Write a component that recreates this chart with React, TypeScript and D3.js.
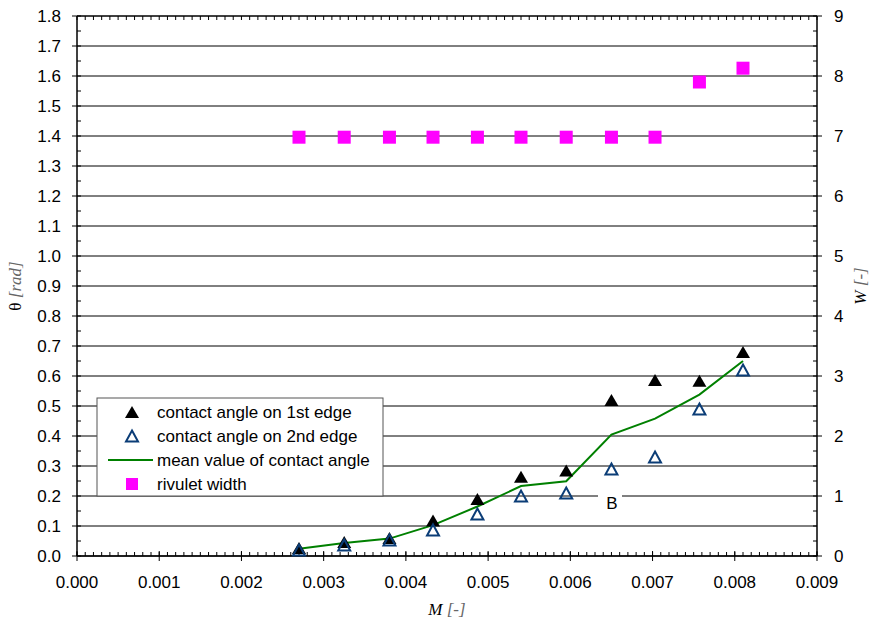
import React from 'react';
import * as d3 from 'd3';

const mValues = [0.0027, 0.00325, 0.0038, 0.00433, 0.00487, 0.0054, 0.00595, 0.0065, 0.00703, 0.00757, 0.0081];
const angle1st = [0.027, 0.047, 0.06, 0.118, 0.19, 0.264, 0.285, 0.52, 0.587, 0.584, 0.68];
const angle2nd = [0.02, 0.037, 0.053, 0.087, 0.14, 0.2, 0.21, 0.29, 0.33, 0.49, 0.62];
const meanAngle = [0.024, 0.043, 0.058, 0.103, 0.165, 0.233, 0.249, 0.405, 0.458, 0.538, 0.65];
const rivuletWidth = [6.98, 6.98, 6.98, 6.98, 6.98, 6.98, 6.98, 6.98, 6.98, 7.9, 8.13];

const xTicks = [0, 0.001, 0.002, 0.003, 0.004, 0.005, 0.006, 0.007, 0.008, 0.009];
const thetaTicks = d3.range(0, 19).map(i => i / 10);
const wTicks = [0, 1, 2, 3, 4, 5, 6, 7, 8, 9];
const legendLabels = [
    'contact angle on 1st edge',
    'contact angle on 2nd edge',
    'mean value of contact angle',
    'rivulet width'
];

const font = '"Liberation Sans", Arial, Helvetica, sans-serif';
const serif = '"Liberation Serif", "Times New Roman", serif';

const triangle = (x: number, y: number, w = 14, h = 12) =>
    `M${x},${y - h / 2}L${x + w / 2},${y + h / 2}L${x - w / 2},${y + h / 2}Z`;

const App = () => {
    const margin = { top: 16, right: 54, bottom: 64, left: 77 };
    const W = 871, H = 620;
    const width = W - margin.left - margin.right;
    const height = H - margin.top - margin.bottom;

    const x = d3.scaleLinear().domain([0, 0.009]).range([margin.left, margin.left + width]);
    const y = d3.scaleLinear().domain([0, 1.8]).range([margin.top + height, margin.top]);
    const yW = d3.scaleLinear().domain([0, 9]).range([margin.top + height, margin.top]);

    const x0 = margin.left, x1 = margin.left + width;
    const y0 = margin.top + height, y1 = margin.top;

    const line = d3.line<number>()
        .x((d, i) => x(mValues[i]))
        .y(d => y(d));

    const minorX = d3.range(0, 91).map(i => i / 10000);
    const minorY = d3.range(0, 37).map(i => i * 0.05);

    const lg = { x: 97, y: 398, w: 286, h: 98 };
    const rowY = (i: number) => lg.y + 14 + i * 24;

    return (
        <svg width={W} height={H} style={{ position: 'absolute', left: 0, top: 0, background: '#fff' }}>
            {/* grid */}
            {thetaTicks.map(t => (
                <line key={'g' + t} x1={x0} x2={x1} y1={y(t)} y2={y(t)} stroke="#000" strokeWidth={1} />
            ))}

            {/* minor ticks */}
            {minorX.map((t, i) => (
                <g key={'mx' + i}>
                    <line x1={x(t)} x2={x(t)} y1={y0} y2={y0 - 4} stroke="#000" />
                    <line x1={x(t)} x2={x(t)} y1={y1} y2={y1 + 4} stroke="#000" />
                </g>
            ))}
            {minorY.map((t, i) => (
                <g key={'my' + i}>
                    <line x1={x0} x2={x0 + 4} y1={y(t)} y2={y(t)} stroke="#000" />
                    <line x1={x1} x2={x1 - 4} y1={y(t)} y2={y(t)} stroke="#000" />
                </g>
            ))}

            {/* axes */}
            <line x1={x0} x2={x0} y1={y1} y2={y0} stroke="#000" strokeWidth={1.5} />
            <line x1={x1} x2={x1} y1={y1} y2={y0} stroke="#000" strokeWidth={1.5} />
            <line x1={x0} x2={x1} y1={y0} y2={y0} stroke="#000" strokeWidth={1.5} />
            <line x1={x0} x2={x1} y1={y1} y2={y1} stroke="#000" strokeWidth={1} />

            {/* major ticks + labels */}
            {xTicks.map(t => (
                <g key={'x' + t}>
                    <line x1={x(t)} x2={x(t)} y1={y0 - 5} y2={y0 + 5} stroke="#000" />
                    <text x={x(t)} y={y0 + 32} textAnchor="middle" fontFamily={font} fontSize={17}>{t.toFixed(3)}</text>
                </g>
            ))}
            {thetaTicks.map(t => (
                <g key={'y' + t}>
                    <line x1={x0 - 5} x2={x0} y1={y(t)} y2={y(t)} stroke="#000" />
                    <text x={61} y={y(t)} dy="0.35em" textAnchor="end" fontFamily={font} fontSize={17}>{t.toFixed(1)}</text>
                </g>
            ))}
            {wTicks.map(t => (
                <g key={'w' + t}>
                    <line x1={x1} x2={x1 + 5} y1={yW(t)} y2={yW(t)} stroke="#000" />
                    <text x={834} y={yW(t)} dy="0.35em" fontFamily={font} fontSize={17}>{t}</text>
                </g>
            ))}

            {/* axis titles */}
            <text x={447} y={615} textAnchor="middle" fontFamily={serif} fontSize={17} fontStyle="italic">
                M <tspan fill="#666" fontWeight={300}>[-]</tspan>
            </text>
            <text transform={`translate(21,${(y0 + y1) / 2}) rotate(-90)`} textAnchor="middle" fontFamily={serif} fontSize={17}>
                θ <tspan fill="#666" fontStyle="italic">[rad]</tspan>
            </text>
            <text transform={`translate(866,${(y0 + y1) / 2}) rotate(-90)`} textAnchor="middle" fontFamily={serif} fontSize={17} fontStyle="italic">
                W <tspan fill="#666">[-]</tspan>
            </text>

            {/* mean line */}
            <path d={line(meanAngle) || ''} fill="none" stroke="#008000" strokeWidth={2} />

            {/* 1st edge */}
            {angle1st.map((v, i) => (
                <path key={'a' + i} d={triangle(x(mValues[i]), y(v))} fill="#000" />
            ))}
            {/* 2nd edge */}
            {angle2nd.map((v, i) => (
                <path key={'b' + i} d={triangle(x(mValues[i]), y(v), 12, 11)} fill="none" stroke="#0b3d77" strokeWidth={2} />
            ))}
            {/* rivulet width */}
            {rivuletWidth.map((v, i) => (
                <rect key={'r' + i} x={x(mValues[i]) - 6.5} y={yW(v) - 6.5} width={13} height={13} fill="#ff00ff" />
            ))}

            {/* annotation */}
            <rect x={598} y={492} width={24} height={20} fill="#fff" />
            <text x={612} y={503} dy="0.35em" textAnchor="middle" fontFamily={font} fontSize={17}>B</text>

            {/* legend */}
            <rect x={lg.x} y={lg.y} width={lg.w} height={lg.h} fill="#fff" stroke="#555" strokeWidth={1} />
            <path d={triangle(132, rowY(0))} fill="#000" />
            <path d={triangle(132, rowY(1), 12, 11)} fill="none" stroke="#0b3d77" strokeWidth={2} />
            <line x1={108} x2={153} y1={rowY(2)} y2={rowY(2)} stroke="#008000" strokeWidth={2} />
            <rect x={126} y={rowY(3) - 6} width={12} height={12} fill="#ff00ff" />
            {legendLabels.map((l, i) => (
                <text key={l} x={157} y={rowY(i)} dy="0.35em" fontFamily={font} fontSize={17}>{l}</text>
            ))}
        </svg>
    );
};

export default App;
